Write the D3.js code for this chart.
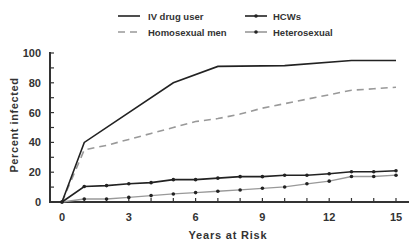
<!DOCTYPE html>
<html><head><meta charset="utf-8">
<script src="https://cdn.jsdelivr.net/npm/d3@7"></script>
<style>body{margin:0;background:#fff}svg{display:block}text{font-family:"Liberation Sans",Arial,sans-serif}</style>
</head><body><svg id="c" width="412" height="241"></svg>
<script>
const years = [0,1,2,3,4,5,6,7,8,9,10,11,12,13,14,15];
const ivYears = [0,1,5,7,10,13,15];
const ivDrugUser = [0,40,80,91,91.5,95,95];
const homosexualMen = [0,35,38,42,46,50,54,56,59,63,66,69,72,75,76,77];
const hcws = [0,10.4,11,12.2,13,15,15,16,17,17,18,18,19,20.3,20.3,21];
const heterosexual = [0,2,2,3.1,4.3,5.4,6.3,7.2,8.1,9.2,10.1,12.2,14,17.1,17.1,18];
const xTickLabels = [0,3,6,9,12,15];
const yTickLabels = [0,20,40,60,80,100];
const legendLabels = ["IV drug user","HCWs","Homosexual men","Heterosexual"];

const svg = d3.select("#c");
const x = d3.scaleLinear().domain([0,15]).range([62,396]);
const y = d3.scaleLinear().domain([0,100]).range([202,53]);
const axisColor = "#333";

// axes lines
svg.append("line").attr("x1",50).attr("x2",50).attr("y1",y(100)-1).attr("y2",y(0)).attr("stroke",axisColor).attr("stroke-width",2);
svg.append("line").attr("x1",49).attr("x2",409).attr("y1",y(0)).attr("y2",y(0)).attr("stroke",axisColor).attr("stroke-width",2);

// y ticks every 10, labels every 20
const yt = d3.range(0,101,10);
svg.selectAll(".yt").data(yt).enter().append("line")
  .attr("x1",50).attr("x2",54).attr("y1",d=>y(d)).attr("y2",d=>y(d)).attr("stroke",axisColor).attr("stroke-width",1.2);
svg.selectAll(".yl").data(yTickLabels).enter().append("text")
  .attr("x",41).attr("y",d=>y(d)+4).attr("text-anchor","end")
  .attr("font-size",11).attr("font-weight","bold").attr("fill","#333").text(d=>d);

// x ticks every year
svg.selectAll(".xt").data(years.filter(d=>d>0)).enter().append("line")
  .attr("x1",d=>x(d)).attr("x2",d=>x(d)).attr("y1",y(0)).attr("y2",y(0)-4).attr("stroke",axisColor).attr("stroke-width",1.2);
svg.selectAll(".xl").data(xTickLabels).enter().append("text")
  .attr("x",d=>x(d)).attr("y",221).attr("text-anchor","middle")
  .attr("font-size",11).attr("font-weight","bold").attr("fill","#333").text(d=>d);

// axis titles
svg.append("text").attr("x",228).attr("y",239).attr("text-anchor","middle").attr("letter-spacing",0.8)
  .attr("font-size",11).attr("font-weight","bold").attr("fill","#333").text("Years at Risk");
svg.append("text").attr("transform","translate(18,125) rotate(-90)").attr("text-anchor","middle").attr("letter-spacing",0.6)
  .attr("font-size",11).attr("font-weight","bold").attr("fill","#333").text("Percent infected");

const line = d3.line().x(d=>x(d[0])).y(d=>y(d[1]));
const pairs = (xs,vs)=>xs.map((v,i)=>[v,vs[i]]);

svg.append("path").attr("d",line(pairs(years,homosexualMen))).attr("fill","none")
  .attr("stroke","#999").attr("stroke-width",1.6).attr("stroke-dasharray","7,5");
svg.append("path").attr("d",line(pairs(years,heterosexual))).attr("fill","none")
  .attr("stroke","#999").attr("stroke-width",1.3);
svg.selectAll(".hm").data(pairs(years,heterosexual)).enter().append("circle")
  .attr("cx",d=>x(d[0])).attr("cy",d=>y(d[1])).attr("r",1.8).attr("fill","#222");
svg.append("path").attr("d",line(pairs(years,hcws))).attr("fill","none")
  .attr("stroke","#222").attr("stroke-width",1.6);
svg.selectAll(".cm").data(pairs(years,hcws)).enter().append("circle")
  .attr("cx",d=>x(d[0])).attr("cy",d=>y(d[1])).attr("r",1.8).attr("fill","#222");
svg.append("path").attr("d",line(pairs(ivYears,ivDrugUser))).attr("fill","none")
  .attr("stroke","#222").attr("stroke-width",1.6);

// legend
const leg = [
  {label:legendLabels[0],x:118,y:16,stroke:"#222",dash:null,dot:false},
  {label:legendLabels[1],x:245,y:16,stroke:"#222",dash:null,dot:true},
  {label:legendLabels[2],x:118,y:32,stroke:"#999",dash:"7,5",dot:false},
  {label:legendLabels[3],x:245,y:32,stroke:"#999",dash:null,dot:true}
];
leg.forEach(l=>{
  svg.append("line").attr("x1",l.x).attr("x2",l.x+22).attr("y1",l.y).attr("y2",l.y)
    .attr("stroke",l.stroke).attr("stroke-width",1.6).attr("stroke-dasharray",l.dash);
  if(l.dot) svg.append("circle").attr("cx",l.x+11).attr("cy",l.y).attr("r",1.8).attr("fill","#222");
  svg.append("text").attr("x",l.x+(l.x<200?30:28)).attr("y",l.y+3.5).attr("font-size",9.5)
    .attr("font-weight","bold").attr("fill","#333").text(l.label);
});
</script></body></html>
